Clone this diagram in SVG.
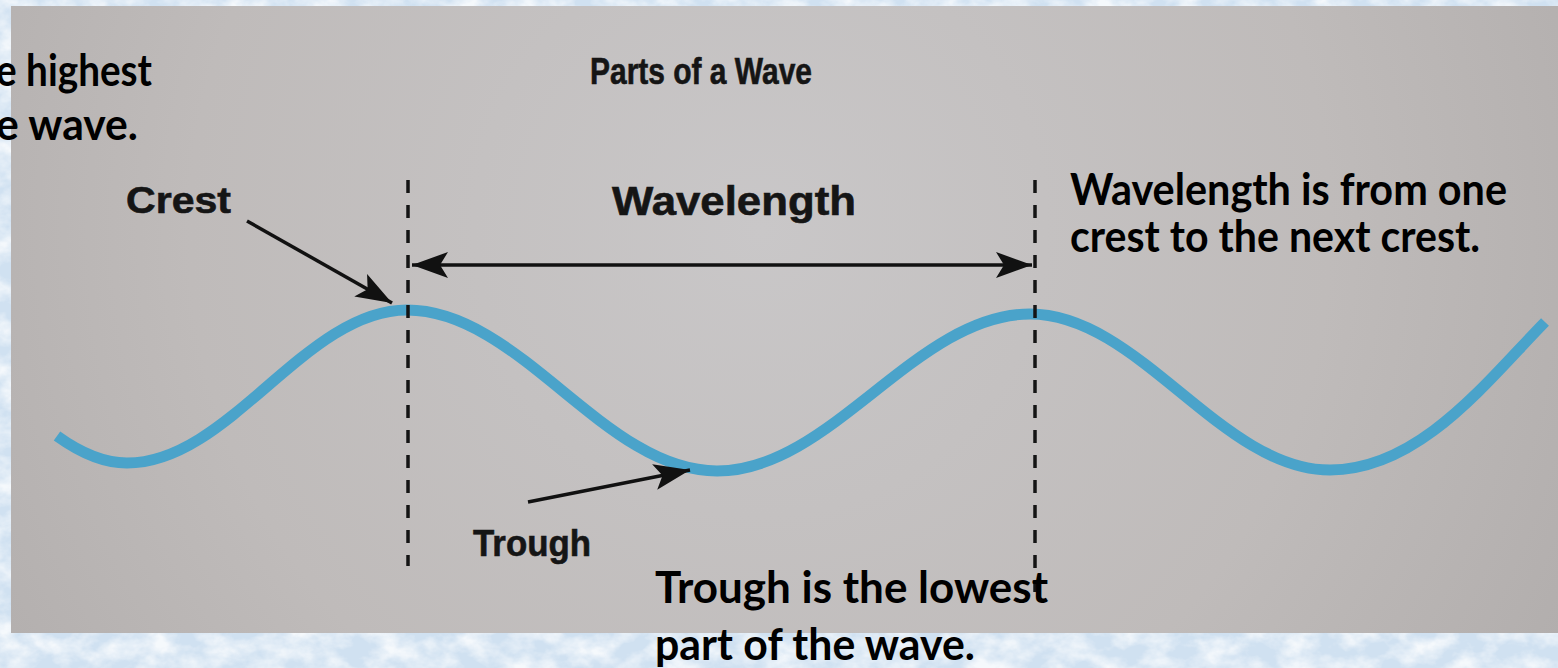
<svg xmlns="http://www.w3.org/2000/svg" width="1558" height="668" viewBox="0 0 1558 668">
  <defs>
    <filter id="tex" x="0" y="0" width="100%" height="100%">
      <feTurbulence type="fractalNoise" baseFrequency="0.035 0.05" numOctaves="4" seed="7"/>
      <feColorMatrix type="matrix" values="0 0 0 0 1  0 0 0 0 1  0 0 0 0 1  2.2 0 0 0 -0.75"/>
    </filter>
    <radialGradient id="paper" cx="760" cy="230" r="950" gradientUnits="userSpaceOnUse">
      <stop offset="0" stop-color="#c9c7c8"/>
      <stop offset="0.6" stop-color="#bfbbba"/>
      <stop offset="1" stop-color="#b0acab"/>
    </radialGradient>
    <marker id="ah" markerUnits="userSpaceOnUse" markerWidth="38" markerHeight="28" refX="36" refY="13" orient="auto-start-reverse" viewBox="0 0 38 28">
      <path d="M0,0 L36,13 L0,26 L8,13 z" fill="#111"/>
    </marker>
    <style>
      .print { font-family: "Liberation Sans", Arial, sans-serif; font-weight: 700; fill: #151515; stroke: #151515; stroke-width: 0.6; }
      .note { font-family: Lato, "Open Sans", sans-serif; font-weight: 700; fill: #000; font-size: 44px; }
      .dash { stroke: #141414; stroke-width: 3.5; stroke-dasharray: 13 12; fill: none; }
      .arrow { stroke: #111; stroke-width: 3.5; fill: none; }
      .wave { stroke: #4aa3ca; stroke-width: 11; fill: none; stroke-linecap: butt; }
    </style>
  </defs>

  <!-- background -->
  <rect x="0" y="0" width="1558" height="668" fill="#d0e1f1"/>
  <rect x="0" y="0" width="1558" height="668" filter="url(#tex)" opacity="0.8"/>
  <rect x="11" y="6" width="1547" height="627" fill="url(#paper)"/>

  <g id="title">
    <text class="print" x="590" y="84" font-size="36" textLength="222" lengthAdjust="spacingAndGlyphs">Parts of a Wave</text>
  </g>

  <g id="wave">
    <path class="wave" d="M57,436 C82,454 104,463 127,463 C229,463 305,310 407,310 C520,310 604,471 717,471 C831,471 916,314 1030,314 C1139,314 1221,470 1330,470 C1420,470 1488,380 1545,322"/>
  </g>

  <g id="guides">
    <line class="dash" x1="408" y1="180" x2="408" y2="566"/>
    <line class="dash" x1="1035" y1="180" x2="1035" y2="592"/>
  </g>

  <g id="connectors">
    <line class="arrow" x1="412" y1="265" x2="1032" y2="265" marker-start="url(#ah)" marker-end="url(#ah)"/>
    <line class="arrow" x1="247" y1="221" x2="392" y2="303" marker-end="url(#ah)"/>
    <line class="arrow" x1="528" y1="502" x2="690" y2="470" marker-end="url(#ah)"/>
  </g>

  <g id="crest">
    <text class="print" x="126" y="213" font-size="37" textLength="105" lengthAdjust="spacingAndGlyphs">Crest</text>
  </g>
  <g id="wavelength">
    <text class="print" x="612" y="215" font-size="40" textLength="244" lengthAdjust="spacingAndGlyphs">Wavelength</text>
  </g>
  <g id="trough">
    <text class="print" x="473" y="556" font-size="37" textLength="118" lengthAdjust="spacingAndGlyphs">Trough</text>
  </g>

  <g id="note-crest">
    <text class="note" x="-4" y="86" textLength="156" lengthAdjust="spacingAndGlyphs">e highest</text>
    <text class="note" x="-4" y="140" textLength="142" lengthAdjust="spacingAndGlyphs">e wave.</text>
  </g>
  <g id="note-wavelength">
    <text class="note" x="1070" y="205" textLength="437" lengthAdjust="spacingAndGlyphs">Wavelength is from one</text>
    <text class="note" x="1070" y="252" textLength="410" lengthAdjust="spacingAndGlyphs">crest to the next crest.</text>
  </g>
  <g id="note-trough">
    <text class="note" x="655" y="603" textLength="393" lengthAdjust="spacingAndGlyphs">Trough is the lowest</text>
    <text class="note" x="655" y="660" textLength="320" lengthAdjust="spacingAndGlyphs">part of the wave.</text>
  </g>
</svg>
